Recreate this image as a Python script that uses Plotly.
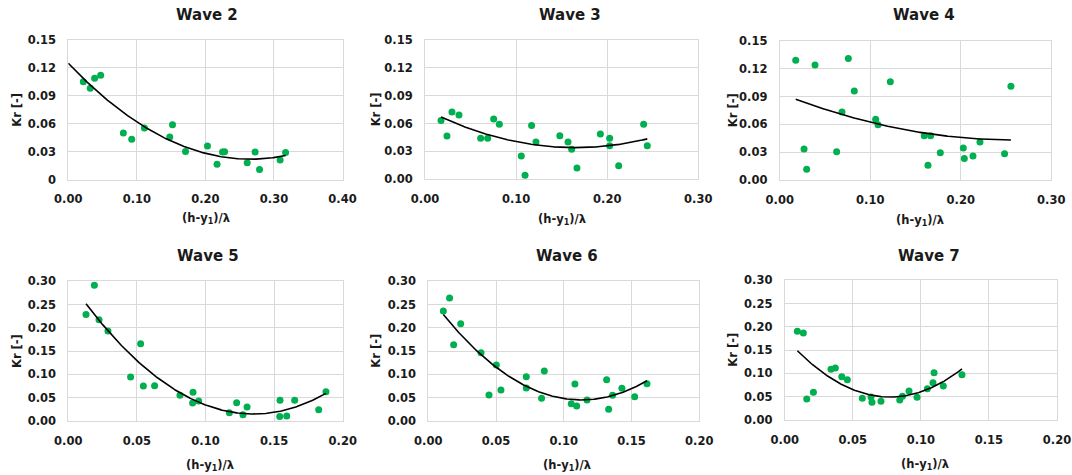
import numpy as np
import plotly.graph_objects as go

W, H = 1072, 475

# ---------------- data ----------------
wave2_x = [0.0219, 0.032, 0.0384, 0.0472, 0.0803, 0.0925, 0.111, 0.148, 0.152, 0.171,
           0.203, 0.217, 0.225, 0.228, 0.261, 0.2725, 0.279, 0.309, 0.317]
wave2_y = [0.105, 0.0982, 0.109, 0.112, 0.050, 0.0432, 0.0554, 0.0457, 0.059, 0.0302,
           0.036, 0.0165, 0.0295, 0.0299, 0.018, 0.0295, 0.0108, 0.0209, 0.0291]

wave3_x = [0.0176, 0.0241, 0.0296, 0.0373, 0.0611, 0.0688, 0.0754, 0.0816, 0.1057, 0.1098,
           0.117, 0.1218, 0.148, 0.157, 0.161, 0.1668, 0.1925, 0.2027, 0.2027, 0.2126,
           0.240, 0.244]
wave3_y = [0.0632, 0.0466, 0.0725, 0.0693, 0.0441, 0.0441, 0.0649, 0.0592, 0.0251, 0.0043,
           0.0578, 0.0402, 0.047, 0.0402, 0.0323, 0.0122, 0.0488, 0.0441, 0.0362, 0.0147,
           0.0592, 0.0362]

wave4_x = [0.0177, 0.0269, 0.0298, 0.039, 0.0629, 0.0688, 0.0758, 0.0824, 0.106, 0.1086,
           0.1222, 0.1597, 0.1638, 0.1667, 0.1774, 0.2028, 0.2039, 0.2135, 0.2212, 0.2484,
           0.2554]
wave4_y = [0.1289, 0.0337, 0.0118, 0.1239, 0.0308, 0.0734, 0.131, 0.096, 0.0655, 0.0598,
           0.106, 0.048, 0.0161, 0.048, 0.0297, 0.0347, 0.0233, 0.0261, 0.0412, 0.0286,
           0.101]

wave5_x = [0.0129, 0.019, 0.0224, 0.0289, 0.0454, 0.0527, 0.0547, 0.0629, 0.0814, 0.0909,
           0.0906, 0.095, 0.1174, 0.1227, 0.1273, 0.1303, 0.1543, 0.1541, 0.1592, 0.165,
           0.1825, 0.1878]
wave5_y = [0.2283, 0.2915, 0.2175, 0.1931, 0.094, 0.1658, 0.0747, 0.0754, 0.0546, 0.061,
           0.038, 0.0424, 0.0172, 0.0388, 0.0129, 0.0294, 0.0438, 0.0093, 0.010, 0.0438,
           0.0237, 0.0625]

wave6_x = [0.0111, 0.0157, 0.0187, 0.0239, 0.0389, 0.0448, 0.0502, 0.0536, 0.0723, 0.0723,
           0.0836, 0.0856, 0.1055, 0.1082, 0.1095, 0.1171, 0.1316, 0.1331, 0.136, 0.1429,
           0.1523, 0.1614]
wave6_y = [0.2362, 0.2642, 0.1637, 0.2089, 0.1464, 0.0553, 0.1199, 0.066, 0.0948, 0.0704,
           0.0481, 0.107, 0.0366, 0.079, 0.0316, 0.0445, 0.0883, 0.0244, 0.0546, 0.0696,
           0.0517, 0.0797]

wave7_x = [0.0093, 0.0137, 0.0162, 0.0211, 0.034, 0.0372, 0.0419, 0.046, 0.057, 0.0634,
           0.0641, 0.0707, 0.0845, 0.0865, 0.0913, 0.0972, 0.1048, 0.1089, 0.1097, 0.1165,
           0.1302]
wave7_y = [0.1902, 0.1866, 0.0445, 0.0589, 0.1084, 0.1113, 0.0926, 0.0861, 0.0459, 0.0488,
           0.0373, 0.0395, 0.0425, 0.0502, 0.0617, 0.0481, 0.0668, 0.0797, 0.1012, 0.0725,
           0.0969]

titles = ["Wave 2", "Wave 3", "Wave 4", "Wave 5", "Wave 6", "Wave 7"]
x_title = "(h-y<sub>1</sub>)/λ"
y_title = "Kr [-]"

xticks_w2 = [0.0, 0.1, 0.2, 0.3, 0.4]
xticks_w34 = [0.0, 0.1, 0.2, 0.3]
xticks_row2 = [0.0, 0.05, 0.10, 0.15, 0.20]
yticks_row1 = [0.0, 0.03, 0.06, 0.09, 0.12, 0.15]
yticks_row2 = [0.0, 0.05, 0.10, 0.15, 0.20, 0.25, 0.30]
ylabels_w2 = ["0", "0.03", "0.06", "0.09", "0.12", "0.15"]
ylabels_row1 = ["0.00", "0.03", "0.06", "0.09", "0.12", "0.15"]
ylabels_row2 = ["0.00", "0.05", "0.10", "0.15", "0.20", "0.25", "0.30"]

# trend-line start (Excel polynomial trendline; wave 2 forecast back to 0)
trend_start = [0.0, None, None, None, None, None]

# ---------------- layout helpers ----------------
xs_data = [wave2_x, wave3_x, wave4_x, wave5_x, wave6_x, wave7_x]
ys_data = [wave2_y, wave3_y, wave4_y, wave5_y, wave6_y, wave7_y]
xticks = [xticks_w2, xticks_w34, xticks_w34, xticks_row2, xticks_row2, xticks_row2]
yticks = [yticks_row1, yticks_row1, yticks_row1, yticks_row2, yticks_row2, yticks_row2]
ylabels = [ylabels_w2, ylabels_row1, ylabels_row1, ylabels_row2, ylabels_row2, ylabels_row2]

# plot-area pixel boxes: (left, right, top, bottom)
boxes = [
    (68.3, 342.5, 40.0, 179.5),
    (425.0, 698.3, 40.0, 179.3),
    (779.7, 1051.3, 40.7, 180.3),
    (68.3, 342.7, 281.3, 420.7),
    (428.3, 699.3, 281.3, 420.7),
    (784.7, 1057.0, 280.3, 419.7),
]
title_pos = [(206.5, 15), (570, 15), (924, 15), (208.3, 256.3), (567.3, 256.3), (928.7, 256)]
xtitle_pos = [(206, 218.5), (561.7, 219.3), (920, 220.5), (210, 465.5), (566.7, 465.3), (925.3, 464)]
ytitle_x = [17, 375.7, 732.7, 17, 375.7, 732.7]

FONT = "DejaVu Sans"
GREEN = "#00B050"
GRID = "#d9d9d9"
TXT = "#1a1a1a"

fig = go.Figure()
annotations = []

def px_x(v):
    return v / W

def px_y(v):
    return 1 - v / H

for i in range(6):
    n = i + 1
    xa = "x" if n == 1 else "x%d" % n
    ya = "y" if n == 1 else "y%d" % n
    xd, yd = np.array(xs_data[i]), np.array(ys_data[i])

    coeffs = np.polyfit(xd, yd, 2)
    start = trend_start[i] if trend_start[i] is not None else xd.min()
    tx = np.linspace(start, xd.max(), 200)
    ty = np.polyval(coeffs, tx)

    fig.add_trace(go.Scatter(x=xd, y=yd, mode="markers", xaxis=xa, yaxis=ya,
                             marker=dict(color=GREEN, size=7, line=dict(width=0)),
                             showlegend=False, hoverinfo="x+y"))
    fig.add_trace(go.Scatter(x=tx, y=ty, mode="lines", xaxis=xa, yaxis=ya,
                             line=dict(color="black", width=1.6),
                             showlegend=False, hoverinfo="skip"))

    l, r, t, b = boxes[i]
    xt = xticks[i]
    yt = yticks[i]
    axis_common = dict(showgrid=True, gridcolor=GRID, gridwidth=1, zeroline=False,
                       showline=True, linecolor=GRID, linewidth=1, mirror=True,
                       automargin=False, ticks="",
                       tickfont=dict(family=FONT, size=11.5, color=TXT, weight="bold"))
    fig.layout["xaxis" if n == 1 else "xaxis%d" % n] = dict(
        domain=[px_x(l), px_x(r)], anchor=ya, range=[xt[0], xt[-1]],
        tickvals=xt, ticktext=["%.2f" % v for v in xt], ticklabelstandoff=9, **axis_common)
    fig.layout["yaxis" if n == 1 else "yaxis%d" % n] = dict(
        domain=[px_y(b), px_y(t)], anchor=xa, range=[yt[0], yt[-1]],
        tickvals=yt, ticktext=ylabels[i], ticklabelstandoff=9, **axis_common)

    tx_, ty_ = title_pos[i]
    annotations.append(dict(text=titles[i], x=px_x(tx_), y=px_y(ty_), xref="paper", yref="paper",
                            showarrow=False, xanchor="center", yanchor="middle",
                            font=dict(family=FONT, size=15, color=TXT, weight="bold")))
    xx, xy = xtitle_pos[i]
    annotations.append(dict(text=x_title, x=px_x(xx), y=px_y(xy), xref="paper", yref="paper",
                            showarrow=False, xanchor="center", yanchor="middle",
                            font=dict(family=FONT, size=11.5, color=TXT, weight="bold")))
    annotations.append(dict(text=y_title, x=px_x(ytitle_x[i]), y=px_y((t + b) / 2), xref="paper",
                            yref="paper", showarrow=False, xanchor="center", yanchor="middle",
                            textangle=-90,
                            font=dict(family=FONT, size=11.5, color=TXT, weight="bold")))

fig.update_layout(width=W, height=H, margin=dict(l=0, r=0, t=0, b=0),
                  paper_bgcolor="white", plot_bgcolor="white",
                  annotations=annotations, showlegend=False)

fig.write_html("out.html")
